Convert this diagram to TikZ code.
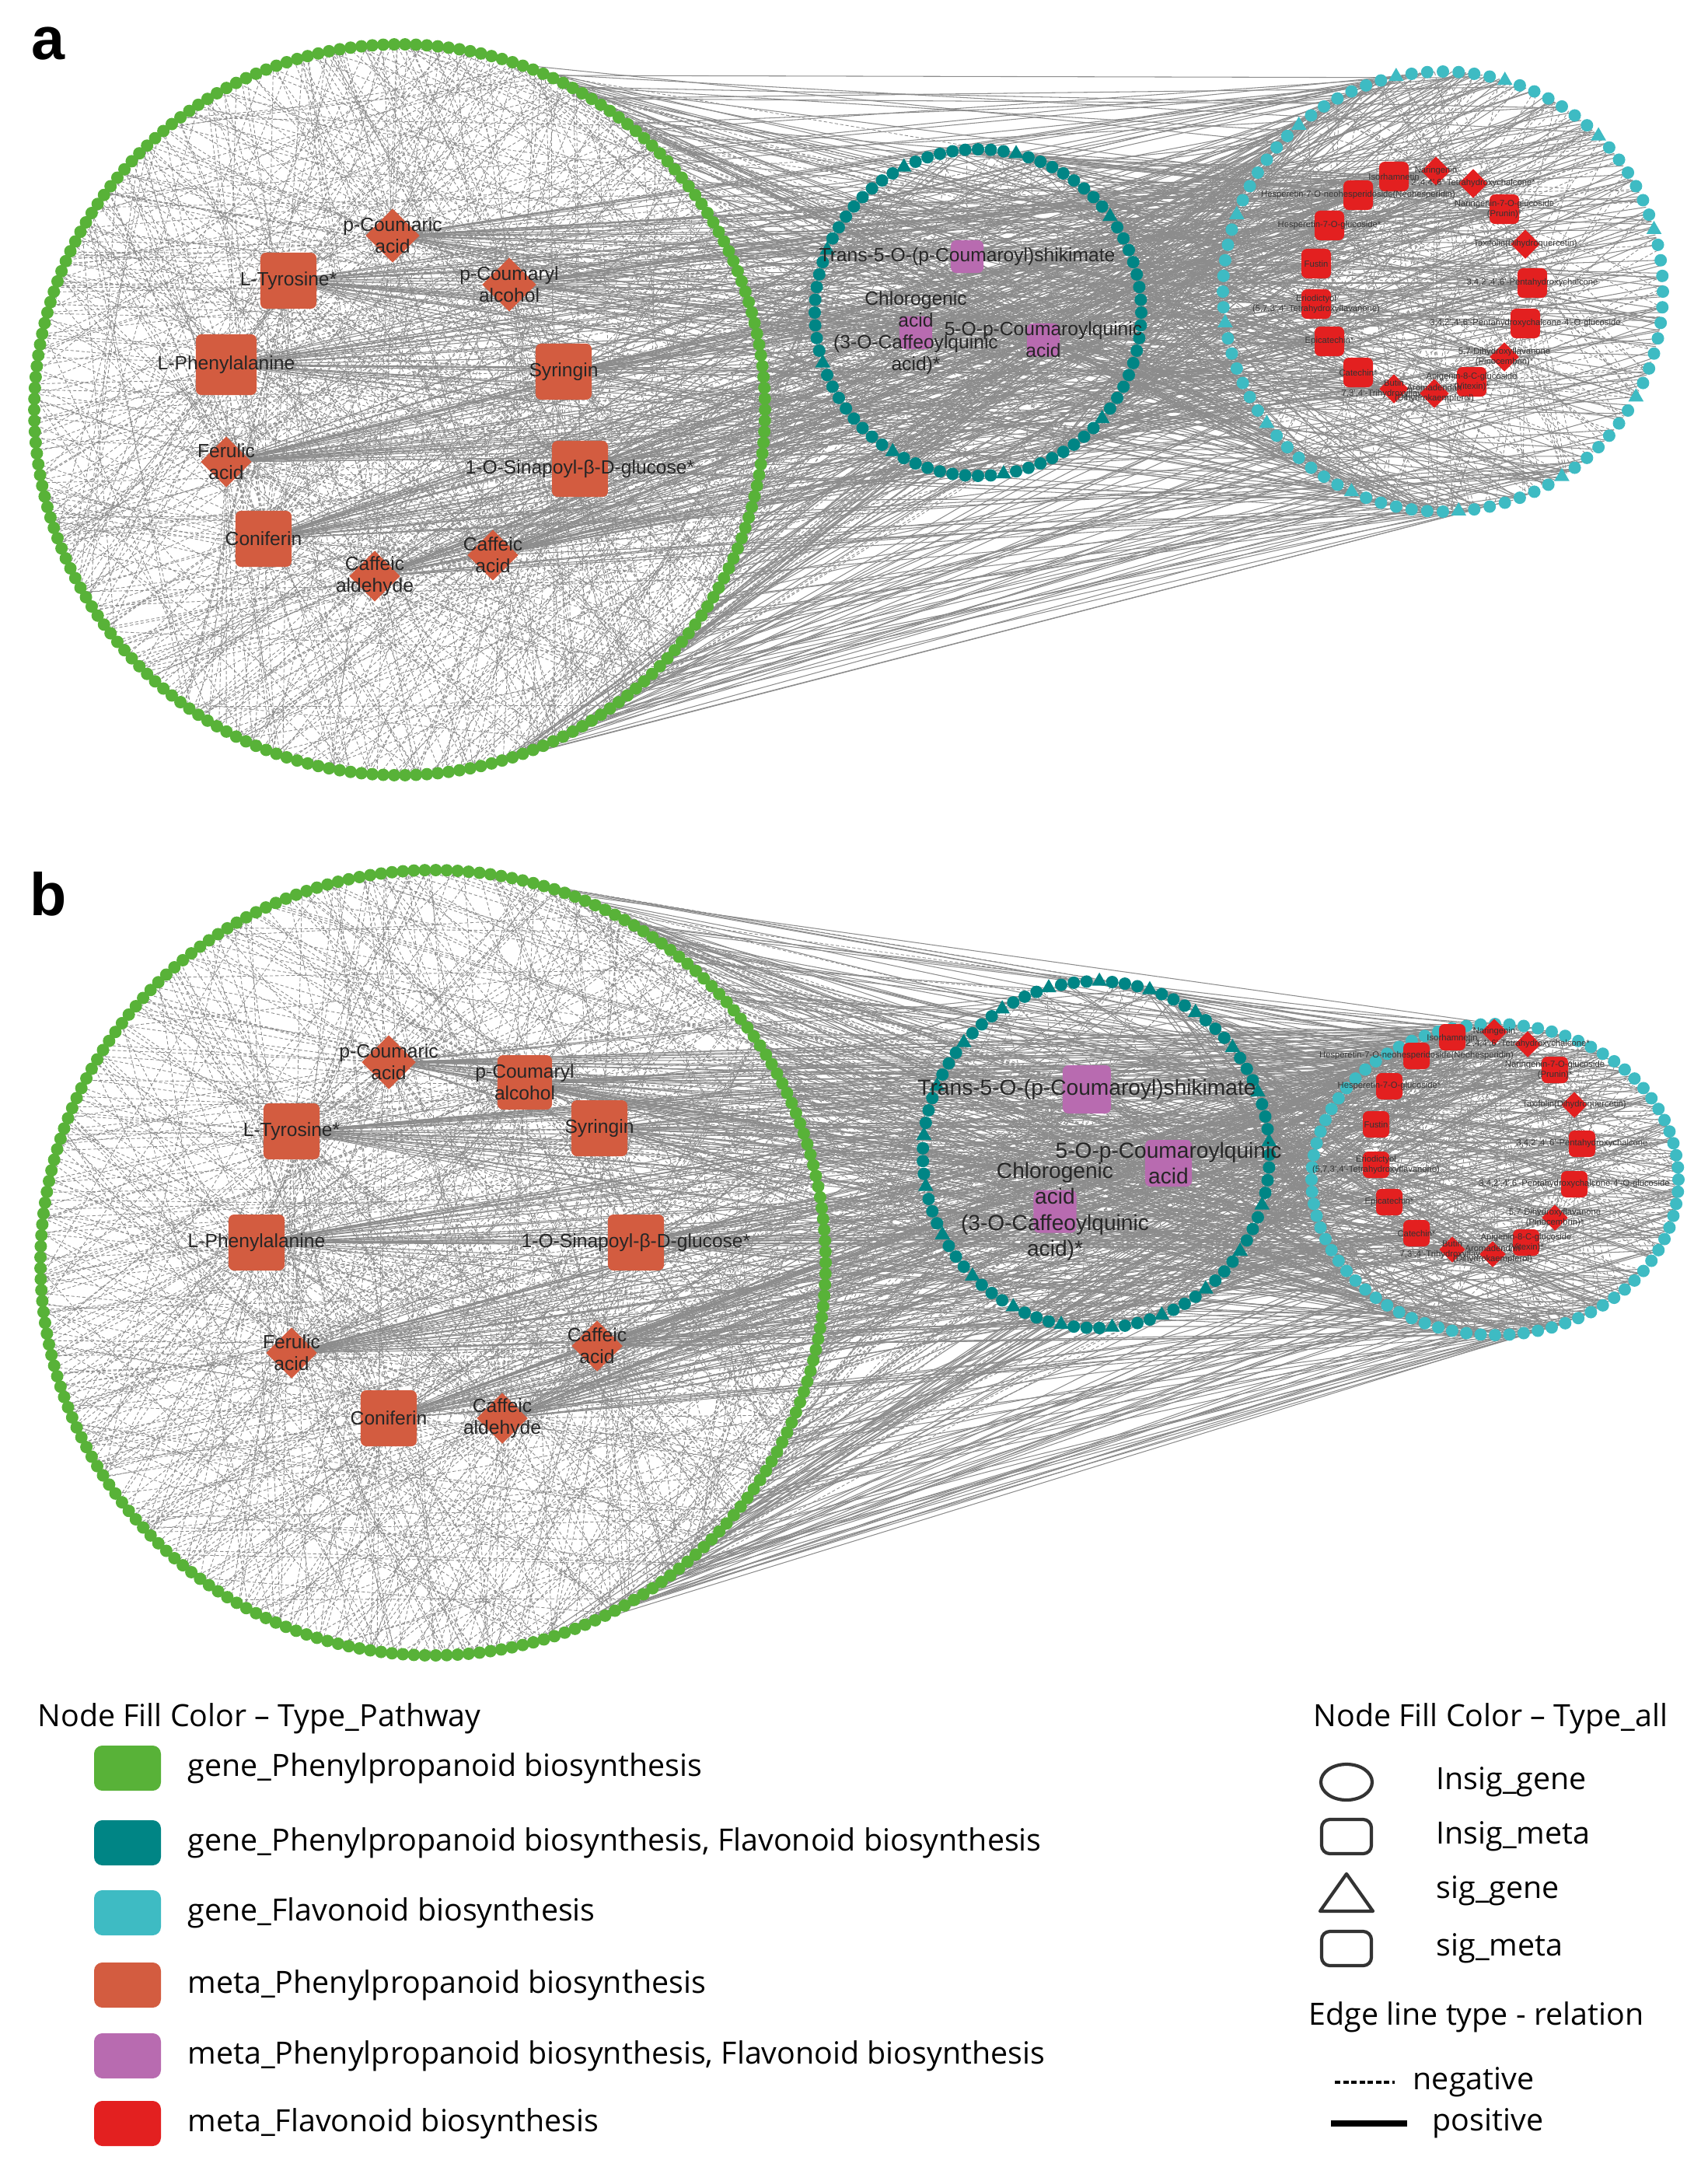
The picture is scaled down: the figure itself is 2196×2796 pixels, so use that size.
\documentclass[tikz,border=0pt]{standalone}
\usepackage{fontspec}
\setmainfont{Liberation Sans}
\newfontfamily\legf{Open Sans}
\usetikzlibrary{shapes.geometric}
\definecolor{cG}{HTML}{58B238}
\definecolor{cT}{HTML}{008585}
\definecolor{cC}{HTML}{3EBBC3}
\definecolor{cO}{HTML}{D35C40}
\definecolor{cP}{HTML}{B86BB0}
\definecolor{cR}{HTML}{E32020}
\definecolor{eg}{HTML}{8C8C8C}
\newcommand\ringdots[7]{%
 \foreach \k in {1,...,#5}{\pgfmathsetmacro\t{360/#5*\k}%
  \pgfmathsetmacro\px{#1+#3*cos(\t)}\pgfmathsetmacro\py{#2+#4*sin(\t)}%
  \pgfmathtruncatemacro\m{mod(\k,#7)}%
  \ifnum\m=0 \node[tri,fill=#6] at (\px,\py){};\else \fill[#6] (\px,\py) circle (8);\fi}}
\newcommand\fanring[7]{%
 \foreach \k in {1,...,#6}{\pgfmathsetmacro\t{rnd*360}%
  \pgfmathsetmacro\px{#2+#4*cos(\t)}\pgfmathsetmacro\py{#3+#5*sin(\t)}%
  \draw[#7] (#1) -- (\px,\py);}}
\newcommand\ringring[9]{%
 \foreach \k in {1,...,#9}{\pgfmathsetmacro\ta{-75+rnd*150}\pgfmathsetmacro\tb{rnd*360}%
  \pgfmathsetmacro\ax{#1+#3*cos(\ta)}\pgfmathsetmacro\ay{#2+#3*sin(\ta)}%
  \pgfmathsetmacro\bx{#4+#6*cos(\tb)}\pgfmathsetmacro\by{#5+#7*sin(\tb)}%
  \draw[#8] (\ax,\ay) -- (\bx,\by);}}
\newcommand\chords[5]{%
 \foreach \k in {1,...,#4}{\pgfmathsetmacro\ta{rnd*360}\pgfmathsetmacro\tb{\ta+60+rnd*240}%
  \draw[#5] ({#1+#3*cos(\ta)},{#2+#3*sin(\ta)}) -- ({#1+#3*cos(\tb)},{#2+#3*sin(\tb)});}}
\begin{document}
\begin{tikzpicture}[x=0.01cm,y=-0.01cm,
 ed/.style={eg,line width=0.25pt,dash pattern=on 1.2pt off 0.8pt},
 es/.style={eg,line width=0.3pt},
 tri/.style={isosceles triangle,shape border rotate=90,isosceles triangle apex angle=60,minimum size=0.17cm,inner sep=0},
 sq/.style={rectangle,rounded corners=2pt,minimum size=#1,inner sep=0},
 dm/.style={diamond,minimum size=#1,inner sep=0},
 lab/.style={font=\fontsize{7}{8}\selectfont,align=center,text=black!85},
 rlab/.style={font=\fontsize{3.2}{3.6}\selectfont,align=center,text=black!80}]
\useasboundingbox (0,0) rectangle (2196,2796);
\pgfmathsetseed{7}
%================ PANEL A =================
\node[font=\bfseries\fontsize{22}{24}\selectfont] (la) at (62,56) {a};
\foreach \n/\x/\y in {pca/505/303,tyr/371/361,pcal/655/366,phe/291/469,syr/725/478,fer/291/594,sin/746/603,con/339/693,cald/482/741,caf/634/714,tr/1244/330,chl/1178/428,cq/1342/437}
  {\coordinate (a\n) at (\x,\y);}
\foreach \n/\x/\y in {r1/1793/227,r2/1847/220,r3/1895/236,r4/1747/251,r5/1935/269,r6/1710/290,r7/1962/314,r8/1693/339,r9/1971/364,r10/1693/391,r11/1962/416,r12/1710/439,r13/1935/459,r14/1747/479,r15/1893/491,r16/1793/500,r17/1845/506}
  {\coordinate (a\n) at (\x,\y);}
% edges
\chords{514}{527}{470}{160}{ed}
\foreach \n in {pca,tyr,pcal,phe,syr,fer,sin,con,cald,caf}{
  \fanring{a\n}{514}{527}{470}{470}{38}{ed}
  \fanring{a\n}{1856}{375}{283}{283}{8}{es}
  \foreach \r in {r1,r3,r4,r6,r8,r10,r12,r14,r16,r2,r5,r9}{\draw[es] (a\n) -- (a\r);}
  \fanring{a\n}{1258}{402}{210}{210}{5}{es}}
\foreach \n in {tr,chl,cq}{
  \fanring{a\n}{514}{527}{470}{470}{30}{ed}
  \fanring{a\n}{1258}{402}{210}{210}{20}{ed}
  \fanring{a\n}{1856}{375}{283}{283}{15}{es}}
\foreach \r in {r1,r2,r3,r4,r5,r6,r7,r8,r9,r10,r11,r12,r13,r14,r15,r16,r17}{
  \fanring{a\r}{1856}{375}{283}{283}{14}{ed}
  \fanring{a\r}{1258}{402}{210}{210}{6}{es}}
\ringring{514}{527}{470}{1856}{375}{283}{283}{es}{220}
\ringring{514}{527}{470}{1258}{402}{210}{210}{ed}{90}
\ringring{1258}{402}{210}{1856}{375}{283}{283}{es}{90}
% rings
\ringdots{514}{527}{470}{470}{210}{cG}{1000}
\ringdots{1258}{402}{210}{210}{80}{cT}{9}
\ringdots{1856}{375}{283}{283}{88}{cC}{7}
% inner nodes
\node[dm=0.7cm,fill=cO,label={[lab]center:p-Coumaric\\acid}] (npca) at (apca) {};
\node[sq=0.72cm,fill=cO,label={[lab]center:L-Tyrosine*}] (ntyr) at (atyr) {};
\node[dm=0.7cm,fill=cO,label={[lab]center:p-Coumaryl\\alcohol}] (npcal) at (apcal) {};
\node[sq=0.78cm,fill=cO,label={[lab]center:L-Phenylalanine}] (nphe) at (aphe) {};
\node[sq=0.72cm,fill=cO,label={[lab]center:Syringin}] (nsyr) at (asyr) {};
\node[dm=0.66cm,fill=cO,label={[lab]center:Ferulic\\acid}] (nfer) at (afer) {};
\node[sq=0.72cm,fill=cO,label={[lab]center:1-O-Sinapoyl-β-D-glucose*}] (nsin) at (asin) {};
\node[sq=0.72cm,fill=cO,label={[lab]center:Coniferin}] (ncon) at (acon) {};
\node[dm=0.66cm,fill=cO,label={[lab]center:Caffeic\\aldehyde}] (ncald) at (acald) {};
\node[dm=0.66cm,fill=cO,label={[lab]center:Caffeic\\acid}] (ncaf) at (acaf) {};
\node[sq=0.42cm,fill=cP,label={[lab]center:Trans-5-O-(p-Coumaroyl)shikimate}] (ntr) at (atr) {};
\node[sq=0.42cm,fill=cP,label={[lab]center:Chlorogenic\\acid\\(3-O-Caffeoylquinic\\acid)*}] (nchl) at (achl) {};
\node[sq=0.42cm,fill=cP,label={[lab]center:5-O-p-Coumaroylquinic\\acid}] (ncq) at (acq) {};
\foreach \r/\s/\t in {r1/sq/Isorhamnetin,r2/dm/Naringenin,r3/dm/{2',4,4',6'-Tetrahydroxychalcone*},r4/sq/{Hesperetin-7-O-neohesperidoside(Neohesperidin)},r5/sq/{Naringenin-7-O-glucoside\\(Prunin)*},r6/sq/{Hesperetin-7-O-glucoside*},r7/dm/{Taxifolin(Dihydroquercetin)},r8/sq/Fustin,r9/sq/{3,4,2',4',6'-Pentahydroxychalcone},r10/sq/{Eriodictyol\\(5,7,3',4'-Tetrahydroxyflavanone)},r11/sq/{3,4,2',4',6'-Pentahydroxychalcone-4'-O-glucoside},r12/sq/{Epicatechin*},r13/dm/{5,7-Dihydroxyflavanone\\(Pinocembrin)*},r14/sq/{Catechin*},r15/sq/{Apigenin-8-C-glucoside\\(Vitexin)*},r16/dm/{Butin\\7,3',4'-Trihydroxyflavanone},r17/dm/{Aromadendrin\\(Dihydrokaempferol)}}
  {\node[\s=0.38cm,fill=cR,label={[rlab]center:\t}] (n\r) at (a\r) {};}
%================ PANEL B =================
\node[font=\bfseries\fontsize{22}{24}\selectfont] (lb) at (62,1150) {b};
\foreach \n/\x/\y in {pca/500/1366,pcal/675/1392,tyr/375/1455,syr/771/1451,phe/330/1598,sin/818/1598,fer/375/1740,caf/768/1731,con/500/1824,cald/646/1824,tr/1398/1401,cq/1503/1496,chl/1357/1558}
  {\coordinate (b\n) at (\x,\y);}
\foreach \n/\x/\y in {r1/1868/1334,r2/1922/1327,r3/1965/1343,r4/1822/1358,r5/2000/1376,r6/1787/1397,r7/2025/1421,r8/1770/1446,r9/2035/1471,r10/1770/1498,r11/2025/1523,r12/1787/1546,r13/2000/1566,r14/1822/1586,r15/1963/1598,r16/1868/1607,r17/1920/1613}
  {\coordinate (b\n) at (\x,\y);}
\chords{557}{1624}{505}{170}{ed}
\foreach \n in {pca,tyr,pcal,phe,syr,fer,sin,con,cald,caf}{
  \fanring{b\n}{557}{1624}{505}{505}{40}{ed}
  \fanring{b\n}{1923}{1517}{236}{200}{8}{es}
  \foreach \r in {r1,r3,r4,r6,r8,r10,r12,r14,r16,r2,r5,r9}{\draw[es] (b\n) -- (b\r);}
  \fanring{b\n}{1410}{1485}{223}{223}{5}{es}}
\foreach \n in {tr,chl,cq}{
  \fanring{b\n}{557}{1624}{505}{505}{30}{ed}
  \fanring{b\n}{1410}{1485}{223}{223}{20}{ed}
  \fanring{b\n}{1923}{1517}{236}{200}{15}{es}}
\foreach \r in {r1,r2,r3,r4,r5,r6,r7,r8,r9,r10,r11,r12,r13,r14,r15,r16,r17}{
  \fanring{b\r}{1923}{1517}{236}{200}{14}{ed}
  \fanring{b\r}{1410}{1485}{223}{223}{6}{es}}
\ringring{557}{1624}{505}{1923}{1517}{236}{200}{es}{220}
\ringring{557}{1624}{505}{1410}{1485}{223}{223}{ed}{90}
\ringring{1410}{1485}{223}{1923}{1517}{236}{200}{es}{90}
\ringdots{557}{1624}{505}{505}{225}{cG}{1000}
\ringdots{1410}{1485}{223}{223}{85}{cT}{4}
\ringdots{1923}{1517}{236}{200}{80}{cC}{1000}
\node[dm=0.7cm,fill=cO,label={[lab]center:p-Coumaric\\acid}] (mpca) at (bpca) {};
\node[sq=0.72cm,fill=cO,label={[lab]center:L-Tyrosine*}] (mtyr) at (btyr) {};
\node[sq=0.7cm,fill=cO,label={[lab]center:p-Coumaryl\\alcohol}] (mpcal) at (bpcal) {};
\node[sq=0.72cm,fill=cO,label={[lab]center:L-Phenylalanine}] (mphe) at (bphe) {};
\node[sq=0.72cm,fill=cO,label={[lab]center:Syringin}] (msyr) at (bsyr) {};
\node[dm=0.66cm,fill=cO,label={[lab]center:Ferulic\\acid}] (mfer) at (bfer) {};
\node[sq=0.72cm,fill=cO,label={[lab]center:1-O-Sinapoyl-β-D-glucose*}] (msin) at (bsin) {};
\node[sq=0.72cm,fill=cO,label={[lab]center:Coniferin}] (mcon) at (bcon) {};
\node[dm=0.66cm,fill=cO,label={[lab]center:Caffeic\\aldehyde}] (mcald) at (bcald) {};
\node[dm=0.66cm,fill=cO,label={[lab]center:Caffeic\\acid}] (mcaf) at (bcaf) {};
\node[sq=0.62cm,fill=cP,label={[lab,font=\fontsize{8}{9}\selectfont]center:Trans-5-O-(p-Coumaroyl)shikimate}] (mtr) at (btr) {};
\node[sq=0.6cm,fill=cP,label={[lab,font=\fontsize{8}{9.5}\selectfont]center:5-O-p-Coumaroylquinic\\acid}] (mcq) at (bcq) {};
\node[sq=0.55cm,fill=cP,label={[lab,font=\fontsize{8}{9.5}\selectfont]center:Chlorogenic\\acid\\(3-O-Caffeoylquinic\\acid)*}] (mchl) at (bchl) {};
\foreach \r/\s/\t in {r1/sq/Isorhamnetin,r2/dm/Naringenin,r3/dm/{2',4,4',6'-Tetrahydroxychalcone*},r4/sq/{Hesperetin-7-O-neohesperidoside(Neohesperidin)},r5/sq/{Naringenin-7-O-glucoside\\(Prunin)*},r6/sq/{Hesperetin-7-O-glucoside*},r7/dm/{Taxifolin(Dihydroquercetin)},r8/sq/Fustin,r9/sq/{3,4,2',4',6'-Pentahydroxychalcone},r10/sq/{Eriodictyol\\(5,7,3',4'-Tetrahydroxyflavanone)},r11/sq/{3,4,2',4',6'-Pentahydroxychalcone-4'-O-glucoside},r12/sq/{Epicatechin*},r13/dm/{5,7-Dihydroxyflavanone\\(Pinocembrin)*},r14/sq/{Catechin*},r15/sq/{Apigenin-8-C-glucoside\\(Vitexin)*},r16/dm/{Butin\\7,3',4'-Trihydroxyflavanone},r17/dm/{Aromadendrin\\(Dihydrokaempferol)}}
  {\node[\s=0.34cm,fill=cR,label={[rlab]center:\t}] (m\r) at (b\r) {};}
%================ LEGEND =================
\begin{scope}[every node/.style={font=\legf\fontsize{11.2}{13}\selectfont,anchor=west,inner sep=0}]
\node (lt1) at (48,2210) {Node Fill Color – Type\_Pathway};
\foreach \c/\y/\t in {cG/2274/{gene\_Phenylpropanoid biosynthesis},cT/2370/{gene\_Phenylpropanoid biosynthesis, Flavonoid biosynthesis},cC/2460/{gene\_Flavonoid biosynthesis},cO/2553/{meta\_Phenylpropanoid biosynthesis},cP/2644/{meta\_Phenylpropanoid biosynthesis, Flavonoid biosynthesis},cR/2731/{meta\_Flavonoid biosynthesis}}{
  \fill[\c,rounded corners=3pt] (121,\y-29) rectangle (207,\y+29);
  \node at (241,\y) {\t};}
\node (lt2) at (1689,2210) {Node Fill Color – Type\_all};
\draw[line width=1.2pt,black!80] (1732,2292) ellipse (33 and 23);
\node at (1847,2292) {Insig\_gene};
\draw[line width=1.2pt,black!80,rounded corners=3pt] (1700,2340) rectangle (1764,2384);
\node at (1847,2362) {Insig\_meta};
\draw[line width=1.2pt,black!80,line join=round] (1698,2458) -- (1732,2410) -- (1766,2458) -- cycle;
\node at (1847,2432) {sig\_gene};
\draw[line width=1.2pt,black!80,rounded corners=3pt] (1700,2484) rectangle (1764,2528);
\node at (1847,2506) {sig\_meta};
\node (lt3) at (1683,2594) {Edge line type - relation};
\coordinate (ng1) at (1717,2678); \coordinate (ng2) at (1794,2678);
\draw[line width=1pt,dash pattern=on 2pt off 1pt] (ng1) -- (ng2);
\node at (1817,2678) {negative};
\coordinate (ps1) at (1712,2731); \coordinate (ps2) at (1810,2731);
\draw[line width=2.5pt] (ps1) -- (ps2);
\node at (1842,2731) {positive};
\end{scope}
\end{tikzpicture}
\end{document}
